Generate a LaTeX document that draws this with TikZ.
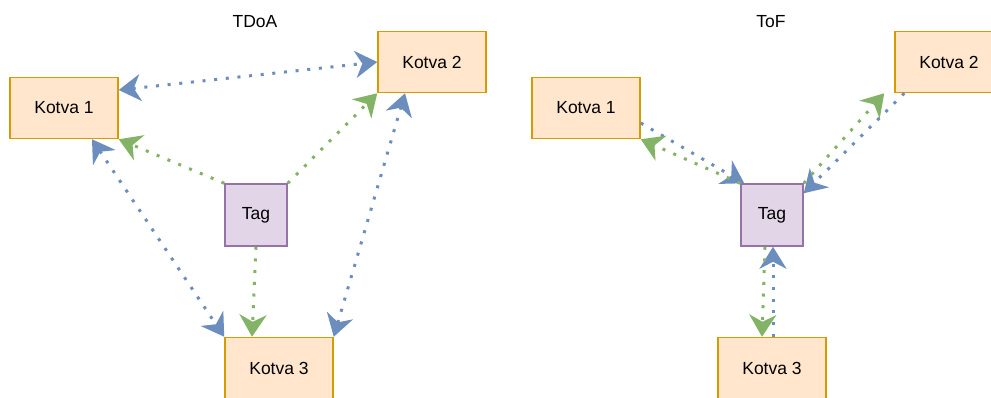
\documentclass[tikz,border=0pt]{standalone}
\usepackage{fontspec}
\setmainfont{Liberation Sans}
\usepackage{tikz}
\usepackage{xcolor}
\usetikzlibrary{arrows.meta,positioning}

\definecolor{kfill}{HTML}{FFE6CC}
\definecolor{kdraw}{HTML}{D79B00}
\definecolor{tfill}{HTML}{E1D5E7}
\definecolor{tdraw}{HTML}{9673A6}
\definecolor{lblue}{HTML}{6C8EBF}
\definecolor{lgreen}{HTML}{82B366}
\tikzset{ktip/.tip={Stealth[length=22pt,width=27pt,inset=7pt]}}

\begin{document}
\begin{tikzpicture}[x=1pt,y=-1pt,
  every node/.style={inner sep=0pt,font=\fontsize{17.5}{20}\selectfont},
  kotva/.style={rectangle,draw=kdraw,fill=kfill,line width=1.5pt,minimum width=108pt,minimum height=61pt},
  tagbox/.style={rectangle,draw=tdraw,fill=tfill,line width=1.5pt,minimum width=62pt,minimum height=62pt},
  link/.style={line width=3pt,dash pattern=on 3pt off 8.7pt,-ktip},
  bluelink/.style={link,lblue},
  greenlink/.style={link,lgreen}]
\useasboundingbox (0,0) rectangle (991,397);
% TDoA
\node (tdoa) at (255,22) {TDoA};
\node (a1) at (64,108) [kotva]{Kotva 1};
\node (a2) at (432,62) [kotva]{Kotva 2};
\node (a3) at (279,368) [kotva]{Kotva 3};
\node (at) at (256,215) [tagbox]{Tag};
\draw[bluelink,ktip-ktip] ([yshift=18pt]a1.east) to (a2.west);
\draw[bluelink,ktip-ktip] ([xshift=28pt]a1.south) to (a3.north west);
\draw[bluelink,ktip-ktip] ([xshift=-27pt]a2.south) to (a3.north east);
\draw[greenlink] (at.north west) to (a1.south east);
\draw[greenlink] (at.north east) to (a2.south west);
\draw[greenlink] (at.south) to ([xshift=-27pt]a3.north);
% ToF
\node (tof) at (771,22) {ToF};
\node (b1) at (586,108) [kotva]{Kotva 1};
\node (b2) at (949,62) [kotva]{Kotva 2};
\node (b3) at (772,368) [kotva]{Kotva 3};
\node (bt) at (772,215) [tagbox]{Tag};
\draw[bluelink] ([yshift=-15pt]b1.east) to ([xshift=4pt]bt.north west);
\draw[greenlink] (bt.north west) to (b1.south east);
\draw[bluelink] ([xshift=10pt]b2.south west) to ([yshift=-10pt]bt.north east);
\draw[greenlink] (bt.north east) to ([xshift=-10pt]b2.south west);
\draw[bluelink] ([xshift=1pt]b3.north) to ([xshift=1pt]bt.south);
\draw[greenlink] ([xshift=-7pt]bt.south) to ([xshift=-10pt]b3.north);
\end{tikzpicture}
\end{document}
